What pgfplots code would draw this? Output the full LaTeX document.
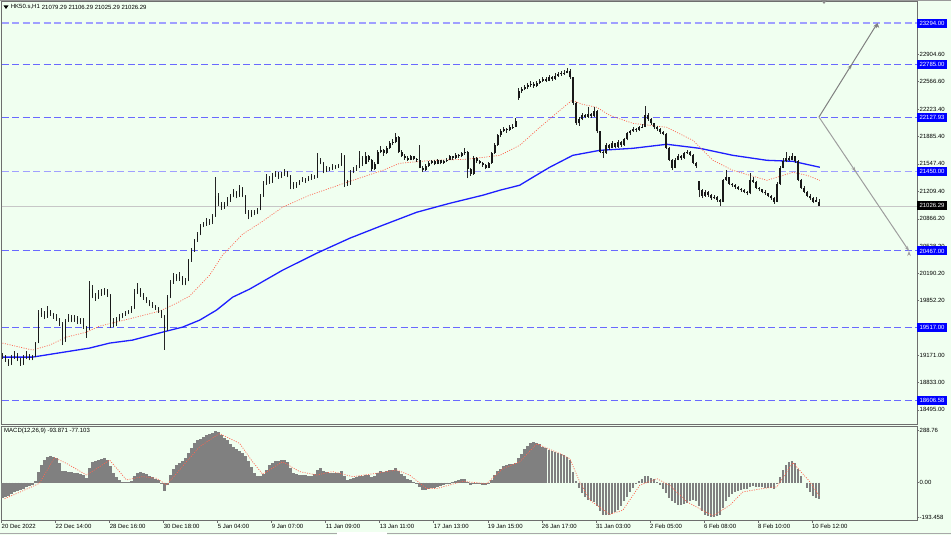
\documentclass[border=0pt]{standalone}
\usepackage{pgfplots}
\pgfplotsset{compat=1.18}
\usepackage{pgfplotstable}
\usepackage{fontspec}
\setmainfont{Liberation Sans}
\usetikzlibrary{decorations.markings, arrows.meta}

\definecolor{bg}{RGB}{240,255,240}
\definecolor{lvl}{RGB}{105,105,255}
\definecolor{lvllight}{RGB}{160,160,255}
\definecolor{maBlue}{RGB}{30,30,255}
\definecolor{emaRed}{RGB}{255,100,80}
\definecolor{histGray}{RGB}{128,128,128}
\definecolor{frm}{RGB}{110,110,110}

\pgfplotstableread{
i o h l c
0 19180 19200 19130 19160
1 19160 19175 19090 19110
2 19110 19130 19040 19070
3 19070 19170 19050 19150
4 19150 19230 19130 19180
5 19180 19195 19100 19120
6 19120 19140 19040 19060
7 19060 19170 19050 19150
8 19150 19220 19130 19180
9 19180 19190 19110 19130
10 19130 19180 19110 19160
11 19160 19340 19150 19320
12 19330 19740 19320 19700
13 19700 19760 19650 19690
14 19690 19720 19620 19650
15 19650 19780 19640 19720
16 19720 19740 19660 19680
17 19680 19700 19620 19650
18 19650 19680 19600 19620
19 19620 19640 19540 19560
20 19560 19580 19300 19350
21 19350 19620 19340 19600
22 19600 19680 19590 19650
23 19650 19670 19580 19600
24 19600 19670 19590 19640
25 19640 19660 19560 19580
26 19580 19640 19560 19620
27 19620 19630 19500 19520
28 19520 19540 19390 19420
29 19500 20100 19490 20000
30 20000 20040 19880 19900
31 19900 19950 19850 19880
32 19880 19980 19870 19950
33 19950 19990 19910 19930
34 19930 20010 19920 19980
35 19980 19990 19900 19920
36 19920 19930 19510 19600
37 19600 19640 19520 19560
38 19560 19650 19540 19620
39 19620 19680 19600 19650
40 19650 19700 19630 19680
41 19680 19720 19660 19700
42 19700 19740 19680 19720
43 19720 19780 19700 19760
44 19760 19990 19750 19950
45 19950 20070 19930 20000
46 20000 20010 19900 19920
47 19920 19940 19860 19880
48 19880 19900 19820 19840
49 19840 19860 19780 19800
50 19800 19830 19760 19780
51 19780 19800 19740 19760
52 19760 19770 19700 19720
53 19720 19740 19640 19660
54 19660 19670 19240 19500
55 19500 19920 19480 19900
56 19900 20110 19880 20080
57 20080 20190 20060 20150
58 20150 20180 20090 20120
59 20120 20200 20100 20140
60 20140 20160 20040 20060
61 20060 20130 20040 20100
62 20100 20370 20090 20350
63 20350 20500 20330 20480
64 20480 20620 20460 20600
65 20600 20700 20580 20680
66 20680 20800 20660 20780
67 20780 20830 20760 20800
68 20800 20870 20780 20830
69 20830 20860 20790 20820
70 20820 20920 20800 20900
71 20900 21380 20890 21150
72 21150 21180 21020 21050
73 21050 21080 20980 21000
74 21000 21080 20990 21050
75 21050 21130 21030 21100
76 21100 21170 21080 21150
77 21150 21230 21130 21200
78 21200 21210 21120 21150
79 21150 21280 21140 21250
80 21250 21260 21130 21150
81 21150 21160 20930 20950
82 20950 20970 20860 20900
83 20900 20980 20890 20950
84 20950 20970 20910 20940
85 20940 21000 20920 20980
86 20980 21170 20970 21150
87 21150 21340 21140 21300
88 21300 21420 21290 21380
89 21380 21400 21300 21320
90 21320 21430 21310 21400
91 21400 21460 21390 21420
92 21420 21440 21360 21380
93 21380 21440 21370 21420
94 21420 21480 21400 21450
95 21450 21460 21380 21400
96 21400 21410 21230 21300
97 21300 21320 21230 21260
98 21260 21320 21250 21300
99 21300 21350 21280 21330
100 21330 21380 21320 21350
101 21350 21370 21310 21340
102 21340 21400 21330 21370
103 21370 21420 21350 21400
104 21400 21410 21360 21380
105 21380 21680 21370 21600
106 21600 21620 21540 21560
107 21560 21570 21430 21450
108 21450 21520 21440 21500
109 21500 21510 21460 21480
110 21480 21540 21470 21520
111 21520 21530 21480 21500
112 21500 21550 21490 21530
113 21530 21680 21520 21650
114 21650 21660 21260 21330
115 21330 21350 21270 21300
116 21300 21470 21290 21450
117 21450 21510 21430 21480
118 21480 21530 21460 21500
119 21500 21710 21490 21620
120 21620 21640 21520 21550
121 21550 21690 21540 21650
122 21650 21660 21570 21600
123 21600 21610 21460 21480
124 21480 21570 21470 21550
125 21550 21720 21540 21700
126 21700 21770 21680 21720
127 21720 21730 21650 21680
128 21680 21770 21670 21750
129 21750 21830 21730 21800
130 21800 21850 21780 21820
131 21820 21930 21800 21880
132 21880 21890 21680 21700
133 21700 21720 21630 21650
134 21650 21670 21600 21620
135 21620 21640 21580 21600
136 21600 21660 21590 21640
137 21640 21650 21590 21610
138 21610 21620 21570 21590
139 21590 21780 21490 21500
140 21500 21520 21450 21470
141 21470 21540 21460 21520
142 21520 21580 21510 21560
143 21560 21600 21540 21580
144 21580 21590 21530 21550
145 21550 21610 21540 21590
146 21590 21600 21540 21560
147 21560 21600 21550 21580
148 21580 21620 21570 21600
149 21600 21660 21590 21640
150 21640 21650 21600 21620
151 21620 21680 21610 21660
152 21660 21670 21620 21640
153 21640 21700 21630 21680
154 21680 21740 21660 21700
155 21700 21710 21370 21480
156 21480 21500 21400 21420
157 21420 21650 21410 21620
158 21620 21630 21560 21580
159 21580 21600 21540 21560
160 21560 21570 21510 21530
161 21530 21540 21480 21500
162 21500 21570 21490 21560
163 21560 21700 21550 21680
164 21680 21800 21670 21780
165 21780 21920 21770 21900
166 21900 21980 21880 21950
167 21950 22010 21940 21980
168 21980 21990 21930 21970
169 21970 22030 21960 22000
170 22000 22040 21980 22010
171 22010 22120 22000 22080
172 22360 22490 22340 22450
173 22450 22500 22430 22480
174 22480 22530 22460 22500
175 22500 22550 22480 22520
176 22520 22570 22500 22540
177 22540 22560 22490 22510
178 22510 22580 22500 22550
179 22550 22600 22540 22570
180 22570 22630 22560 22600
181 22600 22620 22560 22580
182 22580 22650 22570 22620
183 22620 22640 22580 22600
184 22600 22670 22590 22640
185 22640 22690 22630 22660
186 22660 22700 22640 22670
187 22670 22710 22650 22680
188 22680 22740 22670 22700
189 22700 22720 22600 22620
190 22620 22630 22280 22300
191 22300 22320 22030 22050
192 22050 22130 22020 22100
193 22100 22180 22090 22150
194 22150 22170 22110 22130
195 22130 22250 22120 22160
196 22160 22180 22120 22140
197 22140 22250 22130 22200
198 22200 22210 21930 21950
199 21950 21960 21680 21700
200 21700 21720 21620 21680
201 21680 21800 21670 21780
202 21780 21790 21720 21750
203 21750 21830 21740 21800
204 21800 21810 21740 21760
205 21760 21840 21750 21820
206 21820 21830 21760 21780
207 21780 21870 21770 21850
208 21850 21940 21840 21930
209 21930 21970 21910 21950
210 21950 22000 21940 21980
211 21980 21990 21940 21970
212 21970 22020 21960 22000
213 22000 22040 21990 22010
214 22010 22270 22000 22150
215 22150 22180 22080 22100
216 22100 22110 22030 22050
217 22050 22060 21980 22000
218 22000 22020 21960 21980
219 21980 21990 21920 21940
220 21940 21960 21900 21920
221 21920 21930 21730 21750
222 21750 21760 21580 21600
223 21600 21610 21470 21500
224 21500 21620 21490 21600
225 21600 21670 21590 21650
226 21650 21660 21600 21620
227 21620 21700 21610 21680
228 21680 21720 21670 21700
229 21700 21710 21640 21660
230 21660 21670 21540 21560
231 21560 21570 21500 21520
232 21330 21340 21130 21220
233 21220 21230 21120 21150
234 21150 21220 21140 21200
235 21200 21210 21140 21160
236 21160 21170 21100 21120
237 21120 21160 21110 21140
238 21140 21150 21080 21100
239 21100 21110 21030 21080
240 21080 21360 21070 21350
241 21350 21470 21340 21380
242 21380 21390 21290 21300
243 21300 21310 21260 21280
244 21280 21300 21240 21260
245 21260 21270 21220 21240
246 21240 21250 21200 21220
247 21220 21230 21180 21200
248 21200 21210 21160 21180
249 21180 21430 21170 21350
250 21350 21380 21310 21320
251 21320 21330 21240 21250
252 21250 21260 21210 21230
253 21230 21240 21180 21200
254 21200 21220 21160 21180
255 21180 21190 21130 21150
256 21150 21160 21100 21120
257 21120 21130 21050 21080
258 21080 21320 21070 21300
259 21300 21520 21290 21500
260 21500 21620 21490 21580
261 21580 21690 21570 21620
262 21620 21650 21580 21600
263 21600 21680 21590 21640
264 21640 21650 21560 21580
265 21580 21590 21330 21350
266 21350 21360 21240 21250
267 21250 21270 21180 21200
268 21200 21210 21130 21150
269 21150 21170 21100 21120
270 21120 21130 21060 21080
271 21080 21130 21070 21100
272 21079.29 21106.29 21025.29 21026.29
}\candles

\pgfplotstableread{
i m
0 -85
1 -80
2 -72
3 -64
4 -55
5 -48
6 -40
7 -33
8 -26
9 -20
10 -14
11 10
12 60
13 100
14 125
15 140
16 148
17 145
18 135
19 110
20 65
21 62
22 60
23 58
24 55
25 52
26 48
27 40
28 26
29 80
30 112
31 118
32 125
33 132
34 135
35 128
36 90
37 55
38 30
39 12
40 4
41 2
42 3
43 8
44 35
45 55
46 60
47 55
48 45
49 38
50 30
51 22
52 12
53 -10
54 -45
55 -15
56 40
57 75
58 100
59 108
60 120
61 135
62 165
63 195
64 220
65 235
66 245
67 255
68 262
69 268
70 275
71 288
72 280
73 265
74 250
75 235
76 215
77 200
78 185
79 175
80 165
81 150
82 120
83 85
84 55
85 38
86 35
87 45
88 70
89 95
90 110
91 118
92 122
93 125
94 124
95 112
96 80
97 55
98 45
99 42
100 40
101 40
102 38
103 37
104 45
105 70
106 80
107 65
108 58
109 56
110 55
111 52
112 55
113 62
114 35
115 15
116 18
117 25
118 30
119 38
120 35
121 42
122 40
123 30
124 38
125 55
126 62
127 60
128 66
129 70
130 72
131 83
132 65
133 50
134 35
135 22
136 15
137 5
138 -8
139 -25
140 -40
141 -42
142 -38
143 -32
144 -28
145 -22
146 -18
147 -14
148 -10
149 -5
150 2
151 8
152 12
153 20
154 22
155 5
156 -12
157 -2
158 -5
159 -8
160 -12
161 -15
162 -8
163 15
164 40
165 62
166 78
167 90
168 98
169 102
170 105
171 110
172 135
173 160
174 185
175 205
176 218
177 225
178 222
179 215
180 200
181 190
182 180
183 175
184 170
185 165
186 160
187 155
188 145
189 125
190 60
191 10
192 -30
193 -60
194 -80
195 -95
196 -105
197 -108
198 -130
199 -160
200 -178
201 -181
202 -180
203 -175
204 -165
205 -150
206 -130
207 -105
208 -80
209 -55
210 -30
211 -10
212 8
213 22
214 37
215 35
216 28
217 20
218 5
219 -15
220 -35
221 -60
222 -85
223 -105
224 -115
225 -122
226 -125
227 -120
228 -112
229 -100
230 -96
231 -100
232 -130
233 -160
234 -178
235 -186
236 -190
237 -190
238 -185
239 -178
240 -140
241 -105
242 -80
243 -62
244 -52
245 -45
246 -40
247 -38
248 -36
249 -25
250 -20
251 -22
252 -24
253 -25
254 -28
255 -30
256 -32
257 -35
258 -10
259 30
260 70
261 100
262 115
263 118
264 110
265 75
266 35
267 0
268 -30
269 -55
270 -75
271 -88
272 -94
}\macd

\begin{document}
\begin{tikzpicture}
\useasboundingbox (0pt,0pt) rectangle (951pt,535pt);
\fill[bg] (0pt,0pt) rectangle (951pt,535pt);
\draw[frm!70, line width=0.8pt] (0pt,534.6pt) -- (951pt,534.6pt);
\draw[frm!60, line width=0.8pt] (0pt,2pt) -- (951pt,2pt);
\fill[white] (337pt,0pt) rectangle (387pt,3pt);

\begin{axis}[
  at={(1.5pt,111pt)}, anchor=south west, scale only axis,
  width=915.5pt, height=422.5pt,
  xmin=-0.333, xmax=304.667, ymin=18320.3, ymax=23561.3,
  axis line style={frm, line width=0.9pt},
  xtick=\empty,
  scaled y ticks=false,
  ytick={22904.6,22566.6,22223.4,21885.4,21547.4,21209.4,20866.2,20528.2,20190.2,19852.2,19171,18833,18495},
  yticklabels={22904.60,22566.60,22223.40,21885.40,21547.40,21209.40,20866.20,20528.20,20190.20,19852.20,19171.00,18833.00,18495.00},
  ytick pos=right, yticklabel pos=right,
  tick align=outside, major tick length=2pt,
  tick style={frm, line width=0.5pt},
  yticklabel style={font=\fontsize{6}{7}\selectfont, anchor=west, inner sep=0pt, xshift=0.5pt, text=black},
  clip=false,
]
% level lines
\addplot[lvllight, line width=1.1pt, dash pattern=on 7pt off 3.5pt] coordinates {(-0.333,23294) (304.667,23294)};
\addplot[lvl, line width=1pt, dash pattern=on 7pt off 3.5pt] coordinates {(-0.333,22785) (304.667,22785)};
\addplot[lvl, line width=1pt, dash pattern=on 7pt off 3.5pt] coordinates {(-0.333,22127.93) (304.667,22127.93)};
\addplot[lvllight, line width=1.1pt, dash pattern=on 7pt off 3.5pt] coordinates {(-0.333,21450) (304.667,21450)};
\addplot[lvl, line width=1pt, dash pattern=on 7pt off 3.5pt] coordinates {(-0.333,20467) (304.667,20467)};
\addplot[lvl, line width=1pt, dash pattern=on 7pt off 3.5pt] coordinates {(-0.333,19517) (304.667,19517)};
\addplot[lvl, line width=1pt, dash pattern=on 7pt off 3.5pt] coordinates {(-0.333,18606.58) (304.667,18606.58)};
% current price line
\addplot[black!22, line width=0.6pt] coordinates {(-0.333,21026.29) (304.667,21026.29)};
% moving averages
\addplot[maBlue, line width=1.3pt] coordinates {
(0,19150) (10,19150) (29,19262) (35.7,19324) (43.3,19361) (54.7,19473) (60,19522) (65.7,19609) (71.3,19733) (76.7,19894) (82.3,19993)
(93.3,20228) (104.7,20439) (115.7,20625) (126.7,20786) (138,20947) (149,21058) (160,21158) (165.7,21220) (172.3,21282) (176.7,21381)
(182.3,21505) (190,21653) (199,21715) (210,21740) (221.3,21790) (232.3,21740) (243.3,21653) (254.7,21591) (263.3,21579) (272.3,21505)};
\addplot[emaRed, line width=0.7pt, dash pattern=on 1pt off 1.4pt] coordinates {
(0,19324) (10,19237) (15.7,19299) (21.3,19398) (28,19460) (32.3,19534) (43.3,19634) (52.3,19720) (58,19819) (62.3,19906) (69,20166)
(73.3,20414) (80,20675) (85.7,20811) (93.3,21009) (102.3,21158) (110,21257) (115.7,21331) (126.7,21467) (132.3,21554) (143.3,21591)
(154.7,21604) (165.7,21653) (172.3,21777) (179,22000) (185.7,22211) (189.7,22335) (193.3,22285) (198,22248) (202.3,22149) (210,22050)
(221.3,22000) (230,21839) (236.7,21591) (243.3,21467) (254.7,21343) (258,21381) (263.3,21442) (268,21405) (272.3,21343)};
% candles: wicks
\addplot[draw=none, mark=none, forget plot,
  error bars/.cd, y dir=plus, y explicit, error mark=none,
  error bar style={draw=black!85, line width=0.6pt, solid}]
  table[x=i, y=l, y error plus expr={\thisrow{h}-\thisrow{l}}] {\candles};
% candles: bodies
\addplot[draw=none, mark=none, forget plot,
  error bars/.cd, y dir=plus, y explicit, error mark=none,
  error bar style={draw=black!90, line width=1.6pt, solid}]
  table[x=i, y expr={min(\thisrow{o},\thisrow{c})}, y error plus expr={abs(\thisrow{c}-\thisrow{o})}] {\candles};
% arrows
\addplot[black!50, line width=1pt, -{Stealth[length=5pt,width=3.5pt]},
  postaction={decorate}, decoration={markings, mark=at position 0.563 with {\arrow{Stealth[length=5pt,width=3.5pt]}}}]
  coordinates {(272,22127.93) (291.5,23294)};
\addplot[black!38, line width=1pt, -{Stealth[length=5pt,width=3.5pt]},
  postaction={decorate}, decoration={markings, mark=at position 0.408 with {\arrow{Stealth[length=5pt,width=3.5pt]}}}]
  coordinates {(272,22127.93) (302,20467)};
% right-side boxes
\foreach \v/\t in {23294/23294.00, 22785/22785.00, 22127.93/22127.93, 21450/21450.00, 20467/20467.00, 19517/19517.00, 18606.58/18606.58}{
  \edef\tmp{\noexpand\node[fill={rgb,255:red,0;green,0;blue,255}, text=white, anchor=west, inner xsep=2.3pt, inner ysep=0pt, minimum height=9pt, font=\noexpand\fontsize{6}{7}\noexpand\selectfont] at (axis cs:304.667,\v) {\t};}
  \tmp
}
\node[fill=black, text=white, anchor=west, inner xsep=2.3pt, inner ysep=0pt, minimum height=9pt, font=\fontsize{6}{7}\selectfont] at (axis cs:304.667,21026.29) {21026.29};
\end{axis}

\begin{axis}[
  at={(1.5pt,14.3pt)}, anchor=south west, scale only axis,
  width=915.5pt, height=94.5pt,
  xmin=-0.333, xmax=304.667, ymin=-212, ymax=313.6,
  axis line style={frm, line width=0.9pt},
  scaled y ticks=false, scaled x ticks=false,
  xtick={-0.333,17.667,35.667,53.667,71.667,89.667,107.667,125.667,143.667,161.667,179.667,197.667,215.667,233.667,251.667,269.667},
  xticklabels={20 Dec 2022,22 Dec 14:00,28 Dec 16:00,30 Dec 18:00,5 Jan 04:00,9 Jan 07:00,11 Jan 09:00,13 Jan 11:00,17 Jan 13:00,19 Jan 15:00,26 Jan 17:00,31 Jan 03:00,2 Feb 05:00,6 Feb 08:00,8 Feb 10:00,10 Feb 12:00},
  xtick pos=bottom,
  xticklabel style={font=\fontsize{6}{7}\selectfont, anchor=north west, inner sep=0pt, yshift=-1.5pt, text=black},
  ytick={288.76,0,-193.458},
  yticklabels={288.76,0.00,-193.458},
  ytick pos=right, yticklabel pos=right,
  tick align=outside, major tick length=2pt,
  tick style={frm, line width=0.5pt},
  yticklabel style={font=\fontsize{6}{7}\selectfont, anchor=west, inner sep=0pt, xshift=0.5pt, text=black},
  clip=false,
]
\addplot[ycomb, histGray, line width=2.6pt, mark=none] table[x=i, y=m] {\macd};
\addplot[emaRed, line width=0.7pt, dash pattern=on 1pt off 1.4pt] coordinates {
(0.7,-90) (10,-22) (12.3,-4) (17.3,138) (21.3,107) (28,42) (35.7,125) (41.3,15) (46.7,33) (51.3,24) (54.7,-13) (61.3,116) (65.7,200)
(72.3,273) (79,218) (83.3,116) (86.7,46) (93.3,116) (99,61) (104.7,42) (110,61) (116.7,33) (124.7,52) (131.3,70) (135.7,41) (141.3,-33)
(144.7,-33) (153.3,7) (161.3,-6) (166.7,78) (172.3,115) (178,216) (185.7,161) (189,133) (192.3,4) (195.7,-98) (202.3,-177) (206.7,-153)
(212.3,-15) (218,22) (222.3,-15) (228,-107) (236.7,-185) (242.3,-126) (246.7,-52) (253.3,-33) (258,-24) (263.3,111) (269,4) (272.3,-77)};
\end{axis}

% titles
\fill[frm!80] (821pt,535pt) -- (827pt,535pt) -- (824pt,531pt) -- cycle;
\fill[black] (3.5pt,529.5pt) -- (8.5pt,529.5pt) -- (6pt,526pt) -- cycle;
\node[anchor=west, inner sep=0pt, font=\fontsize{6}{7}\selectfont] at (10.7pt,528pt) {HK50.s,H1};
\node[anchor=west, inner sep=0pt, font=\fontsize{6}{7}\selectfont] at (41.7pt,528pt) {21079.29 21106.29 21025.29 21026.29};
\node[anchor=west, inner sep=0pt, font=\fontsize{6}{7}\selectfont] at (4pt,104pt) {MACD(12,26,9) -93.871 -77.103};
\end{tikzpicture}
\end{document}
